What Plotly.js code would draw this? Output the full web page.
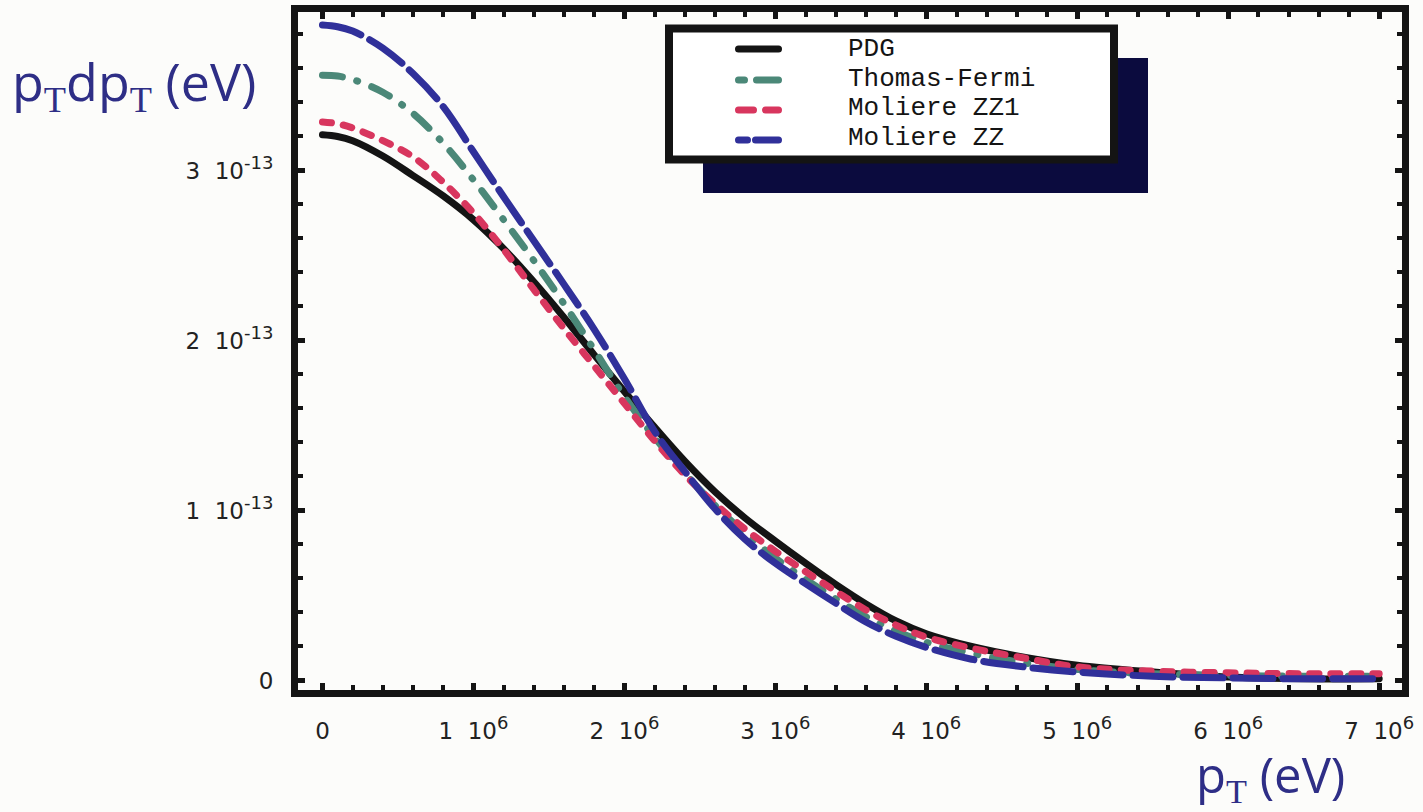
<!DOCTYPE html>
<html><head><meta charset="utf-8">
<script src="https://cdn.plot.ly/plotly-3.0.1.min.js"></script>
<style>
html,body{margin:0;padding:0;background:#fcfcfa;}
#chart{width:1423px;height:812px;}
.js-line{stroke-linecap:round;stroke-linejoin:round;}
.shapelayer path{stroke-linecap:round;}
</style></head><body><div id="chart"></div>
<script>
// transverse momentum p_T (eV)
const pT = [0, 0.1e6, 0.2e6, 0.4e6, 0.6e6, 0.8e6, 1.0e6, 1.2e6, 1.4e6, 1.6e6, 1.8e6, 2.0e6, 2.2e6, 2.4e6, 2.6e6, 2.8e6, 3.0e6, 3.2e6, 3.4e6, 3.6e6, 3.8e6, 4.0e6, 4.3e6, 4.6e6, 5.0e6, 5.5e6, 6.0e6, 6.5e6, 7.0e6];
// p_T dp_T (eV) for each model
const PDG = [3.21e-13, 3.20e-13, 3.175e-13, 3.085e-13, 2.97e-13, 2.85e-13, 2.71e-13, 2.54e-13, 2.345e-13, 2.135e-13, 1.915e-13, 1.70e-13, 1.49e-13, 1.29e-13, 1.11e-13, 0.955e-13, 0.82e-13, 0.69e-13, 0.565e-13, 0.45e-13, 0.35e-13, 0.275e-13, 0.20e-13, 0.145e-13, 0.09e-13, 0.05e-13, 0.02e-13, 0.01e-13, 0.01e-13];
const ThomasFermi = [3.56e-13, 3.555e-13, 3.535e-13, 3.46e-13, 3.335e-13, 3.16e-13, 2.945e-13, 2.71e-13, 2.47e-13, 2.215e-13, 1.945e-13, 1.67e-13, 1.43e-13, 1.22e-13, 1.03e-13, 0.865e-13, 0.72e-13, 0.595e-13, 0.48e-13, 0.375e-13, 0.29e-13, 0.225e-13, 0.16e-13, 0.11e-13, 0.065e-13, 0.04e-13, 0.03e-13, 0.025e-13, 0.025e-13];
const MoliereZZ1 = [3.285e-13, 3.275e-13, 3.25e-13, 3.175e-13, 3.08e-13, 2.93e-13, 2.75e-13, 2.535e-13, 2.30e-13, 2.07e-13, 1.85e-13, 1.63e-13, 1.41e-13, 1.21e-13, 1.04e-13, 0.89e-13, 0.76e-13, 0.64e-13, 0.525e-13, 0.415e-13, 0.325e-13, 0.255e-13, 0.19e-13, 0.14e-13, 0.08e-13, 0.055e-13, 0.045e-13, 0.04e-13, 0.04e-13];
const MoliereZZ = [3.855e-13, 3.845e-13, 3.82e-13, 3.72e-13, 3.57e-13, 3.375e-13, 3.11e-13, 2.845e-13, 2.586e-13, 2.33e-13, 2.065e-13, 1.775e-13, 1.465e-13, 1.23e-13, 1.01e-13, 0.83e-13, 0.69e-13, 0.57e-13, 0.455e-13, 0.345e-13, 0.26e-13, 0.195e-13, 0.125e-13, 0.085e-13, 0.05e-13, 0.025e-13, 0.015e-13, 0.01e-13, 0.01e-13];

const seriesNames = ['PDG', 'Thomas-Fermi', 'Moliere ZZ1', 'Moliere ZZ'];

const sup = s => '<sup><span style="font-size:18px">' + s + '</span></sup>';
const xTickVals = [0, 1e6, 2e6, 3e6, 4e6, 5e6, 6e6, 7e6];
const xTickText = ['0', '1\u00a0\u00a010' + sup('6'), '2\u00a0\u00a010' + sup('6'), '3\u00a0\u00a010' + sup('6'), '4\u00a0\u00a010' + sup('6'), '5\u00a0\u00a010' + sup('6'), '6\u00a0\u00a010' + sup('6'), '7\u00a0\u00a010' + sup('6')];
const yTickVals = [0, 1e-13, 2e-13, 3e-13];
const yTickText = ['0', '1\u00a0\u00a010' + sup('-13'), '2\u00a0\u00a010' + sup('-13'), '3\u00a0\u00a010' + sup('-13')];

// ---- styling ----
const colors = ['#141414', '#4b8878', '#d8365e', '#30309a'];
const dashes = ['solid', '20px,15px,1px,15px', '9px,12px', '40px,10px'];
const legendDash = ['solid', '6px,12px,22px,12px', '15px,12px,13px,12px', '9px,8px,23px,8px'];
const values = [PDG, ThomasFermi, MoliereZZ1, MoliereZZ];

const M = {l: 298, r: 21, t: 12, b: 122};
const W = 1423, H = 812;
const pw = W - M.l - M.r, ph = H - M.t - M.b;
const PX = p => (p - M.l) / pw;
const PY = p => (H - M.b - p) / ph;

const traces = values.map((v, i) => ({
  type: 'scatter', mode: 'lines', x: pT, y: v, name: seriesNames[i],
  line: {color: colors[i], width: 7, dash: dashes[i], shape: 'spline', smoothing: 1},
  hoverinfo: 'skip'
}));

const shapes = [
  {type: 'rect', xref: 'paper', yref: 'paper', x0: PX(703), x1: PX(1148), y0: PY(58), y1: PY(193),
   fillcolor: '#0b0b3e', line: {width: 0}, layer: 'above'},
  {type: 'rect', xref: 'paper', yref: 'paper', x0: PX(669), x1: PX(1114), y0: PY(28.5), y1: PY(159.5),
   fillcolor: '#ffffff', line: {width: 8, color: '#141414'}, layer: 'above'}
];
const legY = [49, 80, 110, 140];
const legTextY = [49, 79, 108, 138];
const annotations = [];
legY.forEach((y, i) => {
  shapes.push({type: 'line', xref: 'paper', yref: 'paper', x0: PX(738.5), x1: PX(778.5), y0: PY(y), y1: PY(y),
    line: {color: colors[i], width: 7, dash: legendDash[i]}, layer: 'above'});
  annotations.push({xref: 'paper', yref: 'paper', x: PX(846), y: PY(legTextY[i]), xanchor: 'left', yanchor: 'middle',
    text: seriesNames[i], showarrow: false, font: {family: 'Liberation Mono', size: 26, color: '#141414'}});
});
const serifT = '<sub><span style="font-family:Liberation Serif">T</span></sub>';
annotations.push({xref: 'paper', yref: 'paper', x: PX(10), y: PY(82), xanchor: 'left', yanchor: 'middle',
  text: 'p' + serifT + 'dp' + serifT + ' (eV)', showarrow: false,
  font: {family: 'Open Sans', size: 52, color: '#2e2e86'}});
annotations.push({xref: 'paper', yref: 'paper', x: PX(1195), y: PY(811), xanchor: 'left', yanchor: 'bottom',
  text: 'p' + serifT + ' (eV)', showarrow: false, borderpad: 0,
  font: {family: 'Open Sans', size: 49, color: '#2e2e86'}});

const axisCommon = {
  showgrid: false, zeroline: false, showline: true, linewidth: 7, linecolor: '#141414',
  mirror: 'allticks', ticks: 'inside', ticklen: 7, tickwidth: 5, tickcolor: '#141414',
  tickmode: 'array', tickfont: {family: 'DejaVu Sans', size: 23, color: '#222222'}
};

const layout = {
  width: W, height: H, margin: M,
  paper_bgcolor: '#fcfcfa', plot_bgcolor: '#fcfcfa', showlegend: false,
  xaxis: Object.assign({}, axisCommon, {
    range: [-0.162e6, 7.151e6], tickvals: xTickVals, ticktext: xTickText, ticklabelstandoff: 14,
    minor: {tickmode: 'linear', tick0: 0, dtick: 2e5, ticks: 'inside', ticklen: 5, tickwidth: 4, tickcolor: '#141414', showgrid: false}
  }),
  yaxis: Object.assign({}, axisCommon, {
    range: [-0.056e-13, 3.932e-13], tickvals: yTickVals, ticktext: yTickText, ticklabelstandoff: 13,
    minor: {tickmode: 'linear', tick0: 0, dtick: 2e-14, ticks: 'inside', ticklen: 5, tickwidth: 4, tickcolor: '#141414', showgrid: false}
  }),
  shapes: shapes, annotations: annotations
};

Plotly.newPlot('chart', traces, layout, {staticPlot: true, displayModeBar: false});
</script></body></html>
